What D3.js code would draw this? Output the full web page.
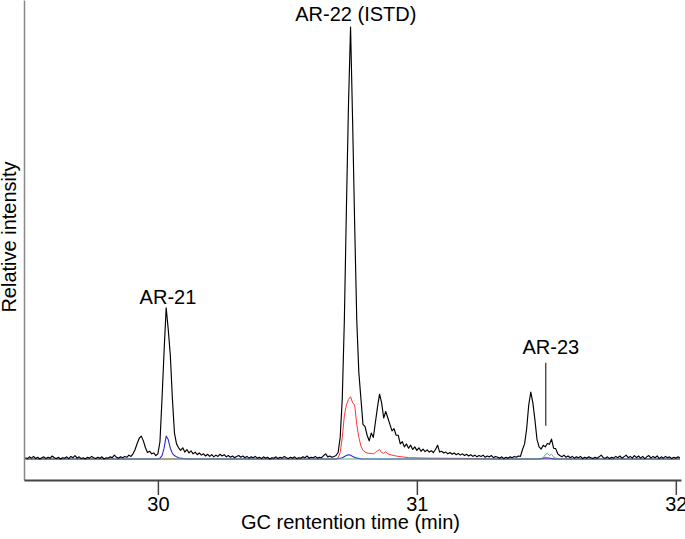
<!DOCTYPE html>
<html><head><meta charset="utf-8">
<script src="https://cdn.jsdelivr.net/npm/d3@7"></script>
<style>
body{margin:0;background:#fff}
svg{display:block}
text{font-family:"Liberation Sans",Arial,Helvetica,sans-serif}
</style>
</head><body>
<svg id="chart" width="685" height="539"></svg>
<script>
// ---- data ----
const startTime = 29.488;      // min, first sample of the total trace
const sampleStep = 0.008;      // min between samples
// total (black) trace, relative intensity (AR-22 apex = 100)
const blackSignal = [
  0.3,0.1,0.5,0.2,0.6,0.1,0.4,0.0,0.3,0.5,
  0.1,0.4,0.2,0.7,0.3,0.1,0.4,0.0,0.3,0.2,
  0.5,0.1,0.6,0.3,0.8,0.2,0.5,0.1,0.3,0.0,
  0.4,0.2,0.6,0.3,0.1,0.4,0.2,0.5,0.0,0.3,
  0.2,0.5,0.3,0.9,0.4,0.2,0.5,0.3,0.6,0.4,
  0.9,0.6,1.2,2.2,3.6,4.8,5.3,4.2,2.6,1.5,
  1.8,1.2,1.4,0.8,1.2,4,14,25,35,30,
  24,14,6,3.5,2.6,2.0,2.6,1.6,2.2,1.4,
  1.9,1.2,1.6,1.0,1.4,0.9,1.2,0.7,1.1,0.6,
  1.0,0.5,0.9,0.6,1.1,0.7,1.0,0.5,0.8,0.4,
  0.7,0.3,0.6,0.8,0.4,0.7,0.3,0.6,0.2,0.5,
  0.3,0.6,0.2,0.4,0.1,0.5,0.2,0.4,0.0,0.3,
  0.2,0.5,0.1,0.4,0.2,0.6,0.3,0.1,0.4,0.2,
  0.5,0.1,0.3,0.2,0.5,0.3,0.7,0.2,0.4,0.3,
  0.6,0.2,0.4,0.3,0.8,1.2,0.5,0.7,0.4,0.6,
  0.8,1.5,5,14,32,58,82,100,78,54,
  32,20,14,8,7.5,5.5,4.2,6,5,8.5,
  12,15,13,9.5,11,9.5,8,6.5,7,5.5,
  5.5,3.5,4,2.8,3.5,2.5,3.2,2.2,2.8,2.0,
  2.6,1.8,2.3,1.7,2.1,1.6,1.9,1.5,2.2,3.2,
  1.6,1.8,1.4,1.6,1.2,1.5,1.1,1.4,1.0,1.3,
  0.9,1.2,0.8,1.1,0.7,1.0,0.6,0.9,0.5,0.8,
  0.6,0.9,0.4,0.7,0.5,0.8,0.3,0.6,0.4,0.2,
  0.5,0.1,0.4,0.2,0.5,0.3,0.6,0.4,0.7,0.6,
  2.2,3.5,7,12.5,15.5,13,9,4.5,2.8,2.3,
  3.2,2.8,3.6,3.4,4.6,2.5,2.4,1.2,0.8,0.5,
  0.9,0.4,0.7,0.3,0.6,0.2,0.5,0.3,0.6,0.1,
  0.4,0.2,0.5,0.3,0.1,0.4,0.2,0.5,0.9,0.3,
  0.2,0.5,0.1,0.4,0.2,0.6,0.3,0.7,0.2,0.5,
  0.9,0.3,0.6,0.2,0.8,0.3,0.7,0.2,0.6,0.1,
  0.5,0.8,0.2,0.6,0.3,0.7,0.1,0.5,0.2,0.6,
  0.3,0.5,0.1,0.4,0.2,0.5,0.3
];
// ion traces as [time (min), relative intensity]
const redTrace = [
  [29.488,0],[30.688,0],[30.696,0.3],[30.704,1.5],[30.712,5],[30.72,10],[30.728,12.5],
  [30.736,13.8],[30.744,14.4],[30.752,13],[30.76,12.5],[30.768,8],[30.776,5],[30.784,3],
  [30.792,2],[30.8,1.6],[30.808,1.4],[30.816,1.3],[30.824,1.3],[30.832,1.2],[30.84,1.5],
  [30.848,1.9],[30.856,2.2],[30.864,1.5],[30.872,1.3],[30.88,1.7],[30.888,1.2],[30.896,1.0],
  [30.904,0.9],[30.912,0.8],[30.928,0.6],[30.944,0.5],[30.968,0.3],[31.048,0.2],
  [31.168,0.15],[31.288,0],[32.016,0]
];
const blueTrace = [
  [29.488,0],[30.0,0],[30.008,0.2],[30.016,0.8],[30.024,2.5],[30.032,5.3],[30.04,4.5],
  [30.048,2.5],[30.056,1.3],[30.064,0.8],[30.072,0.5],[30.08,0.3],[30.096,0.1],[30.12,0],
  [30.69,0],[30.712,0.3],[30.728,0.8],[30.736,1.0],[30.744,0.9],[30.752,0.6],[30.768,0.2],
  [30.79,0],[31.47,0],[31.49,0.2],[31.5,0.3],[31.52,0.1],[31.53,0],[32.016,0]
];
const greenTrace = [
  [29.488,0],[31.48,0],[31.488,0.3],[31.496,1.0],[31.504,1.3],[31.512,0.8],[31.52,1.1],
  [31.528,0.5],[31.536,0.2],[31.55,0],[32.016,0]
];
const xTickValues = [30, 31, 32];
const peakNames = ["AR-21", "AR-22 (ISTD)", "AR-23"];
const peakTimes = [30.035, 30.745, 31.498];
const peakHeights = [35, 100, 7.7];

// ---- chart ----
const svg = d3.select("#chart");
const x = d3.scaleLinear().domain([29.483, 32.02]).range([24, 681]);
const y = d3.scaleLinear().domain([-4.86, 106.25]).range([480, 0]);

const line = d3.line().x(d => x(d[0])).y(d => y(d[1]));
const blackPoints = blackSignal.map((v, i) => [startTime + i * sampleStep, v]);

const traces = [
  {pts: redTrace, color: "#ff3535", w: 1},
  {pts: blueTrace, color: "#2b2bd6", w: 1.1},
  {pts: greenTrace, color: "#5aa883", w: 1},
  {pts: blackPoints, color: "#000", w: 1.15}
];
svg.append("g").selectAll("path").data(traces).join("path")
  .attr("d", d => line(d.pts))
  .attr("fill", "none")
  .attr("stroke", d => d.color)
  .attr("stroke-width", d => d.w)
  .attr("stroke-linejoin", "round");

// y axis (line only)
const yAxis = svg.append("g").attr("transform", "translate(24,0)")
  .call(d3.axisLeft(y).tickValues([]).tickSizeOuter(0));
yAxis.select(".domain").attr("stroke", "#888").attr("stroke-width", 1.5);

// x axis
const xAxis = svg.append("g").attr("transform", "translate(0,480)")
  .call(d3.axisBottom(x).tickValues(xTickValues).tickSize(15).tickSizeOuter(0).tickPadding(2)
        .tickFormat(d3.format("d")));
xAxis.select(".domain").attr("stroke", "#444").attr("stroke-width", 2);
xAxis.selectAll(".tick line").attr("stroke", "#444").attr("stroke-width", 1.5);
xAxis.selectAll(".tick text").attr("font-size", 20).attr("fill", "#000")
  .attr("font-family", '"Liberation Sans",Arial,sans-serif');

// axis titles
svg.append("text").attr("x", 350.5).attr("y", 529).attr("text-anchor", "middle")
  .attr("font-size", 20).text("GC rentention time (min)");
svg.append("text").attr("transform", "translate(16,237) rotate(-90)")
  .attr("text-anchor", "middle").attr("font-size", 20).text("Relative intensity");

// peak labels
const labelOffsets = [{dx: 1, dy: -4}, {dx: 5, dy: -6}];
peakNames.forEach((name, k) => {
  const px = x(peakTimes[k]);
  const py = y(peakHeights[k]);
  if (k < 2) {
    svg.append("text").attr("x", px + labelOffsets[k].dx).attr("y", py + labelOffsets[k].dy)
      .attr("text-anchor", "middle").attr("font-size", 20).text(name);
  } else {
    svg.append("line").attr("x1", px).attr("x2", px).attr("y1", py).attr("y2", py - 63)
      .attr("stroke", "#000").attr("stroke-width", 1);
    svg.append("text").attr("x", px + 5).attr("y", py - 72)
      .attr("text-anchor", "middle").attr("font-size", 20).text(name);
  }
});
</script>
</body></html>
